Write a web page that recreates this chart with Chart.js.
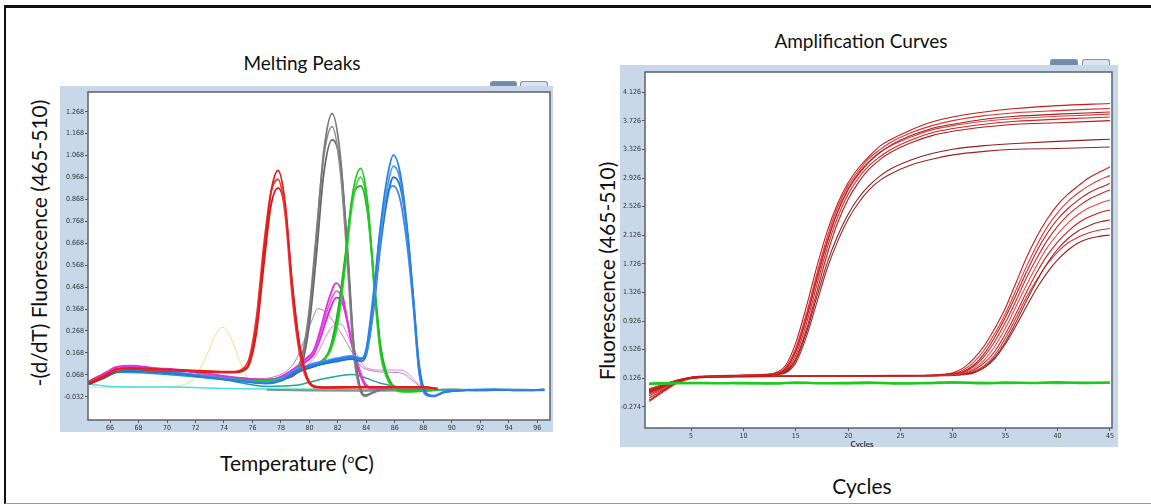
<!DOCTYPE html>
<html>
<head>
<meta charset="utf-8">
<script src="https://cdn.jsdelivr.net/npm/chart.js@4"></script>
<style>
  body { margin: 0; width: 1151px; height: 504px; overflow: hidden; background: #fff; font-family: Lato, "Open Sans", sans-serif; position: relative; }
  #frame { position: absolute; left: 4px; top: 5px; width: 1160px; height: 495px; border-top: 3px solid #111; border-left: 2px solid #111; border-bottom: 1px solid #999; }
  .panel { position: absolute; background: #c9d8e8; overflow: hidden; }
  .panel canvas { position: absolute; left: 0; top: 0; }
  .txt { position: absolute; color: #111; white-space: nowrap; transform: translate(-50%, -50%); }
  .vtxt { position: absolute; color: #111; white-space: nowrap; transform: translate(-50%, -50%) rotate(-90deg); }
  .tab { position: absolute; height: 6px; border-radius: 3px 3px 0 0; border: 1px solid #7d93aa; border-bottom: none; }
</style>
</head>
<body>
<div id="frame"></div>

<div class="txt" style="left:302px; top:62px; font-size:19px;">Melting Peaks</div>
<div class="txt" style="left:861px; top:40px; font-size:19px;">Amplification Curves</div>
<div class="vtxt" style="left:38px; top:243px; font-size:21px;">-(d/dT) Fluorescence (465-510)</div>
<div class="vtxt" style="left:606px; top:271px; font-size:21px;">Fluorescence (465-510)</div>
<div class="txt" style="left:297px; top:462px; font-size:21px;">Temperature (<sup style="font-size:12px;">o</sup>C)</div>
<div class="txt" style="left:862px; top:485px; font-size:21px;">Cycles</div>

<div class="tab" style="left:490px; top:81px; width:25px; background:#6f8cab;"></div>
<div class="tab" style="left:520px; top:81px; width:26px; background:#dbe5ef;"></div>
<div class="tab" style="left:1050px; top:59px; width:26px; background:#6f8cab;"></div>
<div class="tab" style="left:1082px; top:59px; width:26px; background:#dbe5ef;"></div>

<div class="panel" style="left:60px; top:86px; width:493px; height:346px;">
  <canvas id="melt" width="493" height="346"></canvas>
</div>
<div class="panel" style="left:620px; top:65px; width:498px; height:382px;">
  <canvas id="amp" width="498" height="382"></canvas>
  <div class="txt" style="left:242px; top:379px; font-size:8px; font-weight:bold; color:#333;">Cycles</div>
</div>

<script>
// ---- Melting peaks: tick labels ----
const meltXTicks = [66, 68, 70, 72, 74, 76, 78, 80, 82, 84, 86, 88, 90, 92, 94, 96];
const meltYTicks = [-0.032, 0.068, 0.168, 0.268, 0.368, 0.468, 0.568, 0.668, 0.768, 0.868, 0.968, 1.068, 1.168, 1.268];

// red group (peak ~77.8 C)
const redTemps = [64.5, 65.5, 66.5, 67.5, 69, 71, 73, 74.5, 75.3, 75.8, 76.3, 76.8, 77.3, 77.8, 78.3, 78.8, 79.3, 79.8, 80.3, 81, 84, 88, 89];
const red1 = [0.03, 0.06, 0.095, 0.1, 0.095, 0.09, 0.085, 0.082, 0.09, 0.13, 0.3, 0.62, 0.9, 1.0, 0.85, 0.47, 0.2, 0.06, 0.015, 0.01, 0.012, 0.012, 0.005];
const red2 = [0.035, 0.065, 0.09, 0.098, 0.092, 0.088, 0.083, 0.08, 0.095, 0.15, 0.34, 0.66, 0.9, 0.96, 0.8, 0.42, 0.17, 0.05, 0.012, 0.008, 0.01, 0.01, 0.004];
const red3 = [0.025, 0.055, 0.088, 0.095, 0.09, 0.086, 0.08, 0.078, 0.085, 0.12, 0.27, 0.57, 0.84, 0.92, 0.82, 0.48, 0.21, 0.065, 0.018, 0.012, 0.013, 0.013, 0.006];

// gray group (peak ~81.6 C)
const grayTemps = [64.5, 65.5, 66.5, 67.5, 70, 73, 76, 78, 79, 79.5, 80, 80.5, 81, 81.6, 82.2, 82.7, 83.1, 83.5, 83.9, 84.4, 85, 87, 89];
const gray1 = [0.03, 0.06, 0.09, 0.095, 0.08, 0.06, 0.045, 0.05, 0.08, 0.15, 0.35, 0.7, 1.08, 1.26, 1.05, 0.6, 0.2, 0.02, -0.028, -0.015, 0.0, 0.005, 0.0];
const gray2 = [0.028, 0.058, 0.088, 0.092, 0.078, 0.058, 0.043, 0.05, 0.085, 0.16, 0.37, 0.72, 1.06, 1.2, 0.98, 0.55, 0.17, 0.01, -0.03, -0.016, -0.002, 0.004, 0.0];
const gray3 = [0.032, 0.062, 0.09, 0.094, 0.079, 0.059, 0.044, 0.048, 0.07, 0.12, 0.3, 0.62, 0.98, 1.14, 1.02, 0.62, 0.22, 0.03, -0.025, -0.014, 0.0, 0.005, 0.0];

// green group (peak ~83.6 C)
const greenTemps = [64.5, 65.5, 66.5, 67.5, 70, 73, 76, 78, 79.5, 80.5, 81, 81.5, 82, 82.5, 83, 83.6, 84.1, 84.6, 85, 85.4, 85.8, 86.3, 87, 89];
const green1 = [0.03, 0.06, 0.09, 0.095, 0.08, 0.06, 0.04, 0.05, 0.1, 0.12, 0.14, 0.19, 0.33, 0.58, 0.88, 1.01, 0.85, 0.45, 0.18, 0.07, 0.02, -0.005, -0.008, 0.0];
const green2 = [0.028, 0.058, 0.088, 0.092, 0.078, 0.058, 0.038, 0.048, 0.095, 0.118, 0.135, 0.18, 0.3, 0.55, 0.84, 0.97, 0.82, 0.42, 0.16, 0.06, 0.015, -0.008, -0.01, 0.0];
const green3 = [0.032, 0.062, 0.09, 0.094, 0.079, 0.059, 0.042, 0.05, 0.09, 0.11, 0.13, 0.2, 0.36, 0.6, 0.86, 0.93, 0.8, 0.46, 0.2, 0.08, 0.025, -0.003, -0.006, 0.0];

// blue group (peak ~85.9 C)
const blueTemps = [64.5, 65.5, 66.5, 67.5, 69, 71, 73, 75, 77, 78, 79, 80, 81, 82, 83, 83.6, 84, 84.5, 85, 85.5, 85.9, 86.4, 86.9, 87.3, 87.7, 88.2, 88.7, 89.5, 91, 93, 95, 96.5];
const blue1 = [0.03, 0.055, 0.085, 0.09, 0.085, 0.075, 0.058, 0.042, 0.03, 0.045, 0.085, 0.11, 0.125, 0.14, 0.15, 0.14, 0.18, 0.42, 0.75, 0.98, 1.07, 0.98, 0.72, 0.42, 0.1, -0.02, -0.03, -0.01, -0.002, 0.0, -0.003, 0.0];
const blue2 = [0.035, 0.06, 0.088, 0.092, 0.086, 0.076, 0.06, 0.045, 0.034, 0.05, 0.09, 0.115, 0.13, 0.145, 0.155, 0.145, 0.17, 0.38, 0.7, 0.93, 1.02, 0.95, 0.7, 0.4, 0.09, -0.022, -0.028, -0.008, 0.0, 0.002, -0.002, 0.0];
const blue3 = [0.025, 0.05, 0.08, 0.085, 0.08, 0.07, 0.055, 0.04, 0.028, 0.04, 0.075, 0.1, 0.118, 0.13, 0.14, 0.13, 0.16, 0.36, 0.66, 0.88, 0.97, 0.92, 0.7, 0.42, 0.12, -0.015, -0.027, -0.01, -0.003, 0.0, -0.002, 0.0];
const blue4 = [0.03, 0.055, 0.083, 0.088, 0.082, 0.072, 0.056, 0.04, 0.032, 0.048, 0.08, 0.105, 0.12, 0.135, 0.145, 0.14, 0.19, 0.44, 0.74, 0.9, 0.93, 0.86, 0.64, 0.38, 0.08, -0.025, -0.03, -0.012, -0.002, 0.0, -0.003, 0.0];

// magenta group (peak ~81.9 C)
const magTemps = [64.5, 65.5, 66.5, 67.5, 69, 71, 73, 75, 77, 78, 79, 79.7, 80.3, 80.8, 81.3, 81.9, 82.3, 82.7, 83.1, 83.5, 83.9, 84.5, 86, 88];
const mag1 = [0.035, 0.07, 0.105, 0.11, 0.1, 0.09, 0.072, 0.055, 0.045, 0.06, 0.1, 0.14, 0.18, 0.28, 0.4, 0.486, 0.44, 0.3, 0.17, 0.08, 0.02, 0.005, 0.005, 0.0];
const mag2 = [0.03, 0.065, 0.1, 0.105, 0.096, 0.086, 0.07, 0.052, 0.042, 0.058, 0.095, 0.135, 0.17, 0.26, 0.37, 0.45, 0.42, 0.31, 0.18, 0.09, 0.025, 0.006, 0.006, 0.0];
const mag3 = [0.038, 0.072, 0.1, 0.108, 0.098, 0.088, 0.07, 0.054, 0.044, 0.055, 0.09, 0.125, 0.16, 0.24, 0.34, 0.42, 0.4, 0.3, 0.18, 0.095, 0.03, 0.008, 0.006, 0.0];

// single traces
const pinkTemps = [64.5, 66.5, 70, 75, 78, 79.5, 80.5, 81.5, 82.2, 83, 84, 85, 86, 86.7, 87.3, 88, 89];
const pink = [0.03, 0.09, 0.08, 0.05, 0.05, 0.09, 0.16, 0.28, 0.3, 0.2, 0.1, 0.09, 0.09, 0.085, 0.05, 0.01, 0.0];
const mauveTemps = [64.5, 67, 72, 76, 78, 79, 79.6, 80.2, 80.6, 81.2, 81.8, 82.4, 83, 83.6, 84.5, 85.5, 86.5, 87.3, 88];
const mauve = [0.03, 0.09, 0.07, 0.05, 0.07, 0.13, 0.22, 0.32, 0.37, 0.35, 0.3, 0.24, 0.17, 0.11, 0.085, 0.08, 0.075, 0.04, 0.0];
const yellowTemps = [64.5, 68, 71, 72, 72.8, 73.4, 73.9, 74.4, 75, 75.6, 76.5, 80, 85];
const yellow = [0.01, 0.01, 0.02, 0.06, 0.16, 0.25, 0.285, 0.25, 0.15, 0.06, 0.02, 0.005, 0.0];
const cyanTemps = [64.5, 66, 70, 75, 80, 85, 90, 96.5];
const cyan = [0.025, 0.015, 0.012, 0.005, 0.002, 0.0, 0.0, 0.0];
const tealTemps = [64.5, 66.5, 70, 74, 77, 79, 81, 83, 85, 88, 92, 96.5];
const teal = [0.03, 0.08, 0.07, 0.045, 0.015, 0.02, 0.05, 0.07, 0.03, 0.0, 0.0, -0.002];
const tailTemps = [77, 80, 84, 88, 90, 92, 94, 96.5];
const tail = [0.0, -0.003, -0.005, -0.004, 0.002, -0.004, 0.001, -0.002];

// ---- Amplification curves: tick labels ----
const ampXTicks = [5, 10, 15, 20, 25, 30, 35, 40, 45];
const ampYTicks = [-0.274, 0.126, 0.526, 0.926, 1.326, 1.726, 2.126, 2.526, 2.926, 3.326, 3.726, 4.126];

// early amplifying samples
const earlyCycles = [1, 2, 3, 4, 5, 7, 10, 12, 13, 14, 15, 16, 17, 18, 19, 20, 21, 22, 23, 24, 26, 28, 30, 33, 36, 40, 45];
const early1 = [-0.05, 0.0, 0.06, 0.11, 0.14, 0.16, 0.17, 0.18, 0.2, 0.3, 0.62, 1.12, 1.68, 2.18, 2.57, 2.86, 3.07, 3.23, 3.37, 3.46, 3.6, 3.71, 3.78, 3.85, 3.9, 3.94, 3.97];
const early2 = [-0.03, 0.02, 0.07, 0.11, 0.14, 0.155, 0.165, 0.175, 0.19, 0.27, 0.55, 1.02, 1.58, 2.1, 2.52, 2.82, 3.03, 3.2, 3.32, 3.42, 3.56, 3.66, 3.73, 3.8, 3.84, 3.87, 3.9];
const early3 = [-0.08, -0.02, 0.05, 0.1, 0.135, 0.15, 0.16, 0.17, 0.185, 0.25, 0.5, 0.95, 1.5, 2.02, 2.45, 2.76, 2.98, 3.15, 3.28, 3.38, 3.52, 3.62, 3.68, 3.75, 3.79, 3.82, 3.85];
const early4 = [-0.2, -0.1, 0.0, 0.08, 0.13, 0.15, 0.16, 0.17, 0.18, 0.23, 0.45, 0.88, 1.42, 1.95, 2.38, 2.7, 2.93, 3.1, 3.22, 3.32, 3.46, 3.56, 3.62, 3.68, 3.72, 3.75, 3.78];
const early5 = [-0.04, 0.01, 0.06, 0.1, 0.135, 0.15, 0.16, 0.17, 0.18, 0.22, 0.4, 0.8, 1.33, 1.86, 2.3, 2.63, 2.87, 3.05, 3.18, 3.28, 3.42, 3.52, 3.58, 3.64, 3.68, 3.7, 3.73];
const early6 = [-0.18, -0.09, 0.01, 0.08, 0.13, 0.15, 0.16, 0.17, 0.18, 0.21, 0.38, 0.76, 1.26, 1.74, 2.12, 2.42, 2.65, 2.82, 2.95, 3.05, 3.18, 3.27, 3.33, 3.38, 3.41, 3.44, 3.47];
const early7 = [-0.06, 0.0, 0.06, 0.1, 0.135, 0.15, 0.16, 0.165, 0.175, 0.2, 0.34, 0.7, 1.18, 1.66, 2.04, 2.35, 2.58, 2.76, 2.89, 2.98, 3.11, 3.19, 3.25, 3.3, 3.33, 3.34, 3.36];
const early8 = [-0.1, -0.04, 0.04, 0.09, 0.13, 0.15, 0.165, 0.175, 0.19, 0.26, 0.52, 0.98, 1.54, 2.05, 2.47, 2.78, 3.0, 3.16, 3.28, 3.37, 3.5, 3.6, 3.66, 3.72, 3.76, 3.79, 3.82];

// late amplifying samples
const lateCycles = [1, 2, 3, 4, 5, 7, 10, 15, 20, 25, 28, 29, 30, 31, 32, 33, 34, 35, 36, 37, 38, 39, 40, 41, 42, 43, 44, 45];
const late1 = [-0.04, 0.01, 0.06, 0.1, 0.13, 0.145, 0.15, 0.155, 0.16, 0.165, 0.17, 0.18, 0.2, 0.27, 0.4, 0.58, 0.82, 1.1, 1.45, 1.8, 2.1, 2.35, 2.55, 2.7, 2.82, 2.93, 3.01, 3.08];
const late2 = [-0.07, -0.01, 0.05, 0.1, 0.13, 0.145, 0.15, 0.155, 0.16, 0.163, 0.168, 0.175, 0.19, 0.24, 0.35, 0.52, 0.75, 1.02, 1.35, 1.68, 1.98, 2.24, 2.44, 2.6, 2.72, 2.82, 2.9, 2.96];
const late3 = [-0.02, 0.02, 0.07, 0.1, 0.13, 0.145, 0.15, 0.155, 0.158, 0.162, 0.166, 0.172, 0.185, 0.22, 0.31, 0.47, 0.7, 0.97, 1.28, 1.6, 1.9, 2.15, 2.35, 2.5, 2.62, 2.72, 2.79, 2.85];
const late4 = [-0.12, -0.05, 0.03, 0.09, 0.125, 0.14, 0.148, 0.152, 0.156, 0.16, 0.164, 0.17, 0.18, 0.21, 0.29, 0.43, 0.64, 0.9, 1.2, 1.52, 1.8, 2.05, 2.25, 2.41, 2.53, 2.63, 2.7, 2.76];
const late5 = [-0.05, 0.0, 0.06, 0.1, 0.13, 0.145, 0.15, 0.153, 0.156, 0.16, 0.163, 0.167, 0.175, 0.2, 0.26, 0.38, 0.57, 0.82, 1.12, 1.42, 1.7, 1.95, 2.14, 2.3, 2.42, 2.51, 2.57, 2.62];
const late6 = [-0.15, -0.07, 0.02, 0.08, 0.12, 0.14, 0.148, 0.152, 0.155, 0.158, 0.162, 0.166, 0.172, 0.19, 0.24, 0.34, 0.5, 0.74, 1.02, 1.32, 1.6, 1.84, 2.03, 2.18, 2.3, 2.38, 2.44, 2.48];
const late7 = [-0.03, 0.02, 0.07, 0.1, 0.13, 0.145, 0.15, 0.153, 0.155, 0.158, 0.16, 0.163, 0.168, 0.18, 0.21, 0.28, 0.42, 0.63, 0.9, 1.2, 1.48, 1.73, 1.93, 2.08, 2.19, 2.26, 2.31, 2.34];
const late8 = [-0.1, -0.03, 0.04, 0.09, 0.125, 0.14, 0.148, 0.152, 0.155, 0.157, 0.16, 0.163, 0.168, 0.18, 0.22, 0.3, 0.45, 0.68, 0.96, 1.25, 1.5, 1.72, 1.89, 2.02, 2.1, 2.16, 2.2, 2.22];
const late9 = [-0.06, 0.0, 0.06, 0.1, 0.13, 0.145, 0.15, 0.152, 0.154, 0.156, 0.158, 0.16, 0.165, 0.175, 0.2, 0.27, 0.4, 0.6, 0.85, 1.12, 1.38, 1.6, 1.78, 1.92, 2.02, 2.08, 2.11, 2.13];

// negative controls
const negCycles = [1, 3, 5, 8, 10, 13, 15, 18, 20, 22, 25, 28, 30, 33, 35, 38, 40, 42, 45];
const neg1 = [0.05, 0.06, 0.06, 0.055, 0.06, 0.05, 0.065, 0.055, 0.06, 0.065, 0.05, 0.06, 0.07, 0.055, 0.065, 0.06, 0.07, 0.06, 0.065];
const neg2 = [0.04, 0.05, 0.055, 0.06, 0.05, 0.06, 0.055, 0.06, 0.05, 0.055, 0.06, 0.055, 0.06, 0.065, 0.055, 0.06, 0.055, 0.065, 0.06];

function line(xs, ys, color, width) {
    return {
        data: xs.map((x, i) => ({ x: x, y: ys[i] })),
        borderColor: color,
        borderWidth: width,
        pointRadius: 0,
        fill: false,
        cubicInterpolationMode: 'monotone'
    };
}

// white plotting area and dark frame round it
const plotBox = {
    id: 'plotBox',
    beforeDraw(chart) {
        const a = chart.chartArea, c = chart.ctx;
        c.save();
        c.fillStyle = '#fff';
        c.fillRect(a.left, a.top, a.right - a.left, a.bottom - a.top);
        c.restore();
    },
    afterDraw(chart) {
        const a = chart.chartArea, c = chart.ctx;
        c.save();
        c.strokeStyle = '#58626f';
        c.lineWidth = 1.5;
        c.strokeRect(a.left, a.top, a.right - a.left, a.bottom - a.top);
        c.restore();
    }
};

const tickFont = { family: "'Liberation Sans Narrow', 'DejaVu Sans Condensed', sans-serif", size: 7 };

function axes(xMin, xMax, xTicks, yMin, yMax, yTicks, yWidth, xHeight) {
    return {
        x: {
            type: 'linear', min: xMin, max: xMax,
            afterBuildTicks: s => { s.ticks = xTicks.map(v => ({ value: v })); },
            afterFit: s => { s.height = xHeight; },
            ticks: { font: tickFont, color: '#333', padding: 1, maxRotation: 0, autoSkip: false },
            grid: { drawOnChartArea: false, tickLength: 3, color: '#555' },
            border: { display: false }
        },
        y: {
            min: yMin, max: yMax,
            afterBuildTicks: s => { s.ticks = yTicks.map(v => ({ value: v })); },
            afterFit: s => { s.width = yWidth; },
            ticks: { font: tickFont, color: '#333', padding: 1, autoSkip: false, callback: v => v.toFixed(3) },
            grid: { drawOnChartArea: false, tickLength: 3, color: '#555' },
            border: { display: false }
        }
    };
}

const commonOpts = {
    responsive: false,
    devicePixelRatio: 1,
    animation: false,
    plugins: { legend: { display: false }, tooltip: { enabled: false } }
};

// first dataset ends up on top
new Chart(document.getElementById('melt'), {
    type: 'line',
    data: {
        datasets: [
            line(redTemps, red1, '#e41c1c', 1.8),
            line(redTemps, red2, '#f03a3a', 1.8),
            line(redTemps, red3, '#d01616', 1.8),
            line(blueTemps, blue1, '#2a80e0', 1.8),
            line(blueTemps, blue2, '#4a9af0', 1.8),
            line(blueTemps, blue3, '#1f70d0', 1.8),
            line(blueTemps, blue4, '#3c8ce6', 1.8),
            line(greenTemps, green1, '#22c322', 1.8),
            line(greenTemps, green2, '#3ad43a', 1.8),
            line(greenTemps, green3, '#1aa81a', 1.8),
            line(grayTemps, gray1, '#7a7a7a', 1.8),
            line(grayTemps, gray2, '#8e8e8e', 1.8),
            line(grayTemps, gray3, '#666666', 1.8),
            line(magTemps, mag1, '#e030e0', 1.8),
            line(magTemps, mag2, '#ec55ec', 1.8),
            line(magTemps, mag3, '#cc22d4', 1.8),
            line(pinkTemps, pink, '#e67ee6', 1),
            line(mauveTemps, mauve, '#b77ccc', 1),
            line(tealTemps, teal, '#1fa3a3', 1.5),
            line(tailTemps, tail, '#6f9c90', 2),
            line(cyanTemps, cyan, '#46e0e8', 1.5),
            line(yellowTemps, yellow, '#ece9a0', 1.2)
        ]
    },
    options: Object.assign({}, commonOpts, {
        layout: { padding: { top: 6, right: 3, left: 0, bottom: 0 } },
        scales: axes(64.45, 96.9, meltXTicks, -0.138, 1.358, meltYTicks, 28, 12)
    }),
    plugins: [plotBox]
});

new Chart(document.getElementById('amp'), {
    type: 'line',
    data: {
        datasets: [
            line(negCycles, neg1, '#1ec81e', 2.5),
            line(negCycles, neg2, '#3ad83a', 2),
            line(earlyCycles, early1, '#c81a1a', 1.1),
            line(earlyCycles, early2, '#e03030', 1.1),
            line(earlyCycles, early3, '#a52020', 1.1),
            line(earlyCycles, early4, '#d42222', 1.1),
            line(earlyCycles, early5, '#b81c1c', 1.1),
            line(earlyCycles, early6, '#8e2020', 1.1),
            line(earlyCycles, early7, '#9a2424', 1.1),
            line(earlyCycles, early8, '#e24040', 1.1),
            line(lateCycles, late1, '#c81a1a', 1.1),
            line(lateCycles, late2, '#e03636', 1.1),
            line(lateCycles, late3, '#b02020', 1.1),
            line(lateCycles, late4, '#d42424', 1.1),
            line(lateCycles, late5, '#e24848', 1.1),
            line(lateCycles, late6, '#c02020', 1.1),
            line(lateCycles, late7, '#9a2626', 1.1),
            line(lateCycles, late8, '#d83030', 1.1),
            line(lateCycles, late9, '#8e2222', 1.1)
        ]
    },
    options: Object.assign({}, commonOpts, {
        layout: { padding: { top: 7, right: 6, left: 0, bottom: 0 } },
        scales: axes(0.6, 45.2, ampXTicks, -0.571, 4.41, ampYTicks, 25, 19)
    }),
    plugins: [plotBox]
});
</script>
</body>
</html>
